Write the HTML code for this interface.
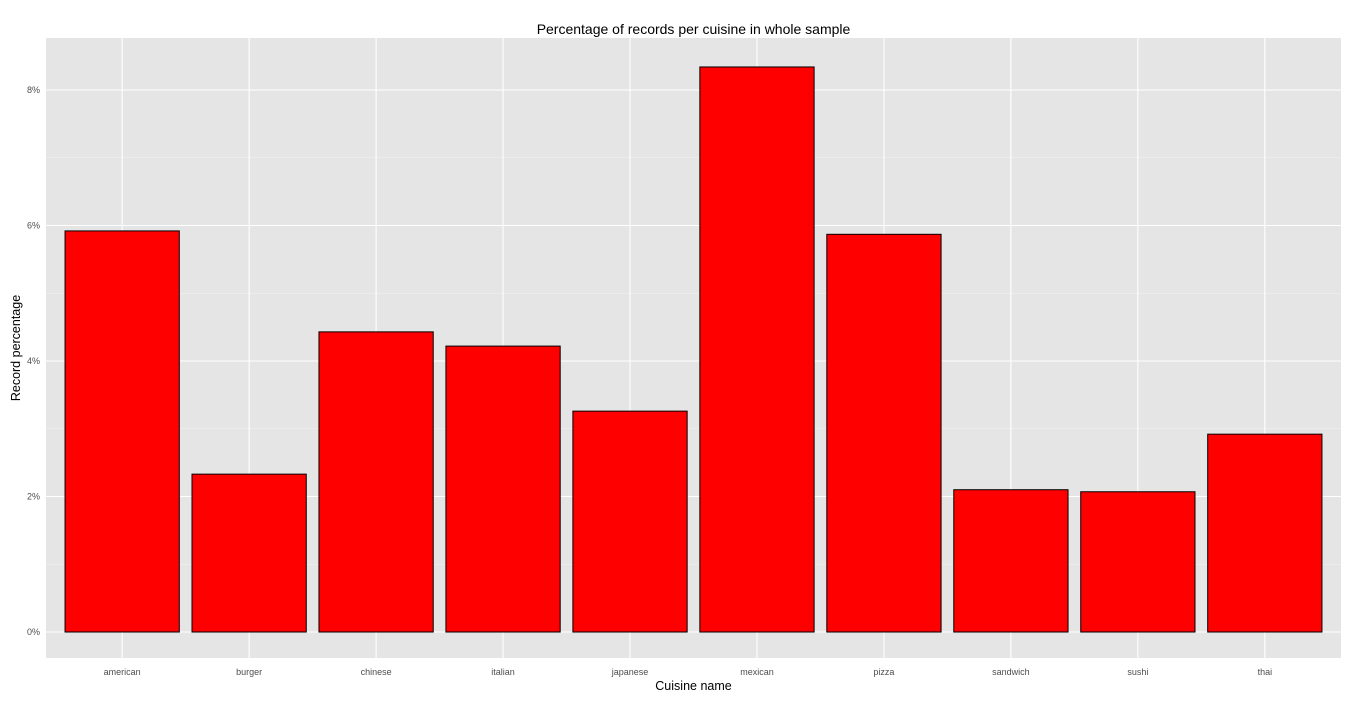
<!DOCTYPE html>
<html><head><meta charset="utf-8"><style>
body{margin:0;background:#fff;font-family:"Liberation Sans",sans-serif;}
</style></head><body>
<svg id="chart" width="1354" height="699" xmlns="http://www.w3.org/2000/svg"></svg>
<script>
const categories=["american","burger","chinese","italian","japanese","mexican","pizza","sandwich","sushi","thai"];
const values=[5.92,2.33,4.43,4.22,3.26,8.34,5.87,2.10,2.07,2.92];
const yTicks=[0,2,4,6,8];
const yTickLabels=["0%","2%","4%","6%","8%"];
const yMinor=[1,3,5,7];
const svg=document.getElementById('chart');
const NS="http://www.w3.org/2000/svg";
const L=46,R=1341,T=38,B=658;
const y0=632,pxPer=67.75;
function y(v){return y0-v*pxPer;}
const step=(R-L)/(categories.length-1+1.2);
function x(i){return L+(0.6+i)*step;}
function add(tag,attrs,parent){const e=document.createElementNS(NS,tag);for(const k in attrs)e.setAttribute(k,attrs[k]);(parent||svg).appendChild(e);return e;}
const panel=add('rect',{x:L,y:T,width:R-L,height:B-T,fill:'#e5e5e5'});


yMinor.forEach(v=>{const l=add('line',{x1:L,x2:R,y1:y(v),y2:y(v),stroke:'#f2f2f2','stroke-width':0.6});

});
yTicks.forEach((v,i)=>{const l=add('line',{x1:L,x2:R,y1:y(v),y2:y(v),stroke:'#fff','stroke-width':1.1});


const t=add('text',{x:L-6,y:y(v)+3,'text-anchor':'end','font-size':9,fill:'#4d4d4d'});t.textContent=yTickLabels[i];

});
categories.forEach((c,i)=>{const l=add('line',{x1:x(i),x2:x(i),y1:T,y2:B,stroke:'#fff','stroke-width':1.1});

});
const bw=step*0.9;
categories.forEach((c,i)=>{const r=add('rect',{x:x(i)-bw/2,y:y(values[i]),width:bw,height:y(0)-y(values[i]),fill:'#ff0000',stroke:'#000','stroke-width':1});


const t=add('text',{x:x(i),y:675,'text-anchor':'middle','font-size':9,fill:'#4d4d4d'});t.textContent=c;

});
const title=add('text',{x:(L+R)/2,y:34,'text-anchor':'middle','font-size':14,fill:'#000'});title.textContent="Percentage of records per cuisine in whole sample";


const xt=add('text',{x:(L+R)/2,y:690,'text-anchor':'middle','font-size':12.5,fill:'#000'});xt.textContent="Cuisine name";


const yt=add('text',{x:0,y:0,'text-anchor':'middle','font-size':12.5,fill:'#000',transform:'translate(20,348) rotate(-90)'});yt.textContent="Record percentage";


</script>
</body></html>
